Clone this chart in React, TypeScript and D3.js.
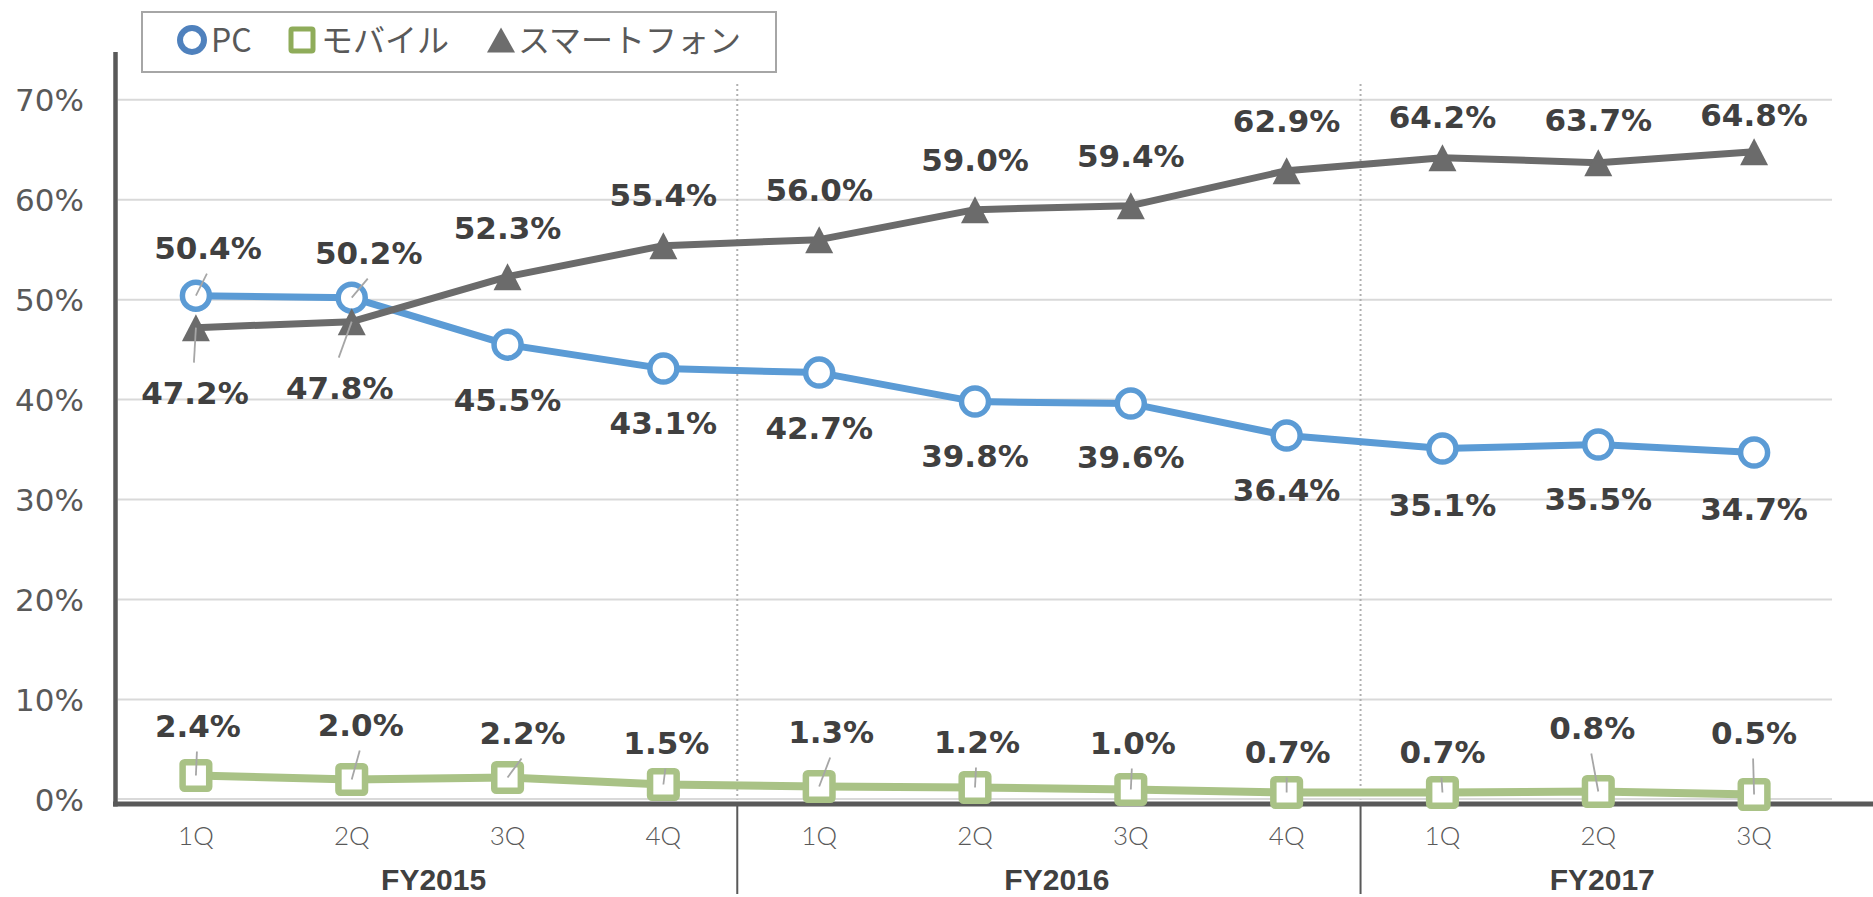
import React from "react";
import * as d3 from "d3";

// quarters on the x axis, grouped by fiscal year
const quarters = ["1Q", "2Q", "3Q", "4Q", "1Q", "2Q", "3Q", "4Q", "1Q", "2Q", "3Q"];
const fiscalYears = ["FY2015", "FY2016", "FY2017"];
const quartersPerYear = [4, 4, 3];

// share of access by device (%)
const pcShare = [50.4, 50.2, 45.5, 43.1, 42.7, 39.8, 39.6, 36.4, 35.1, 35.5, 34.7];
const mobileShare = [2.4, 2.0, 2.2, 1.5, 1.3, 1.2, 1.0, 0.7, 0.7, 0.8, 0.5];
const smartphoneShare = [47.2, 47.8, 52.3, 55.4, 56.0, 59.0, 59.4, 62.9, 64.2, 63.7, 64.8];

const yTicks = [0, 10, 20, 30, 40, 50, 60, 70];
const legendNames = ["PC", "モバイル", "スマートフォン"];

// label placement (pixel offsets from each point), like the hand-moved Excel labels
const pcLabelDx = [12, 17, 0, 0, 0, 0, 0, 0, 0, 0, 0];
const pcLabelDy = [-48, -45, 55, 54, 55, 54, 53, 54, 56, 54, 56];
const pcLeader = [true, true, false, false, false, false, false, false, false, false, false];
const mobileLabelDx = [2, 9, 15, 3, 12, 2, 2, 1, 0, -6, 0];
const mobileLabelDy = [-50, -55, -45, -42, -55, -46, -47, -41, -41, -64, -62];
const mobileLeader = [true, true, true, true, true, true, true, true, true, true, true];
const smartLabelDx = [-1, -12, 0, 0, 0, 0, 0, 0, 0, 0, 0];
const smartLabelDy = [65, 66, -49, -51, -50, -50, -50, -50, -41, -43, -37];
const smartLeader = [true, true, false, false, false, false, false, false, false, false, false];

const W = 1873, H = 897;
const left = 118, right = 1832;

const PC_COLOR = "#5b9bd5";
const MOBILE_COLOR = "#a9c286";
const SMART_COLOR = "#6b6b6b";

const x = d3.scaleBand<number>().domain(d3.range(quarters.length)).range([left, right]);
const cx = (i: number) => (x(i) as number) + x.bandwidth() / 2;
const y = d3.scaleLinear().domain([0, 70]).range([799.5, 99.7]);

const line = (vals: number[]) =>
  d3.line<number>().x((d, i) => cx(i)).y((d) => y(d))(vals) as string;

const triangle = (px: number, py: number, w: number, h: number) =>
  `M${px},${py - h / 2}L${px + w / 2},${py + h / 2}L${px - w / 2},${py + h / 2}Z`;

const labelFont = { fontFamily: "'DejaVu Sans', Verdana, sans-serif", fontWeight: 700, fontSize: 31, fill: "#404040" };

function Labels({ vals, dx, dy, leader }: { vals: number[]; dx: number[]; dy: number[]; leader: boolean[] }) {
  return (
    <g>
      {vals.map((v, i) => {
        const px = cx(i), py = y(v);
        const lx = px + dx[i], ly = py + dy[i];
        const endY = dy[i] < 0 ? ly + 26 : ly - 30;
        return (
          <g key={i}>
            {leader[i] && (
              <line x1={px} y1={py} x2={lx - 1} y2={endY} stroke="#a6a6a6" strokeWidth={1.8} />
            )}
            <text x={lx} y={ly} dy="0.36em" textAnchor="middle" {...labelFont}>
              {v.toFixed(1)}%
            </text>
          </g>
        );
      })}
    </g>
  );
}

export default function App() {
  // boundaries between fiscal years
  const bounds: number[] = [];
  let acc = 0;
  quartersPerYear.forEach((n) => {
    bounds.push(acc);
    acc += n;
  });
  const bx = (k: number) => left + k * x.step();

  return (
    <svg width={W} height={H} style={{ position: "absolute", left: 0, top: 0, background: "#fff" }}>
      {/* gridlines */}
      {yTicks.filter((t) => t > 0).map((t) => (
        <line key={t} x1={left} x2={right} y1={y(t)} y2={y(t)} stroke="#d9d9d9" strokeWidth={2} />
      ))}
      <line x1={left} x2={right} y1={y(0) - 0.5} y2={y(0) - 0.5} stroke="#d9d9d9" strokeWidth={2} />

      {/* dotted year separators */}
      {bounds.slice(1).map((b) => (
        <line key={b} x1={bx(b) - 4} x2={bx(b) - 4} y1={84} y2={y(0)} stroke="#b0b0b0" strokeWidth={2} strokeDasharray="2,3" />
      ))}

      {/* y tick labels */}
      {yTicks.map((t) => (
        <text key={t} x={84} y={y(t)} dy="0.36em" textAnchor="end"
          style={{ fontFamily: "'DejaVu Sans', Verdana, sans-serif", fontSize: 31, fill: "#595959" }}>
          {t}%
        </text>
      ))}

      {/* axes */}
      <line x1={115.5} x2={115.5} y1={52} y2={806.5} stroke="#595959" strokeWidth={4.5} />
      <line x1={113} x2={W} y1={804} y2={804} stroke="#595959" strokeWidth={5} />

      {/* category labels */}
      {quarters.map((q, i) => (
        <text key={i} x={cx(i)} y={836} dy="0.36em" textAnchor="middle"
          style={{ fontFamily: "Lato, 'Open Sans', sans-serif", fontWeight: 300, fontSize: 26, fill: "#595959" }}>
          {q}
        </text>
      ))}
      {bounds.slice(1).map((b) => (
        <line key={"s" + b} x1={bx(b) - 4} x2={bx(b) - 4} y1={806} y2={894} stroke="#595959" strokeWidth={2} />
      ))}
      {fiscalYears.map((fy, k) => {
        const a = bx(bounds[k]);
        const e = bx(bounds[k] + quartersPerYear[k]);
        return (
          <text key={fy} x={(a + e) / 2 + 4} y={879} dy="0.36em" textAnchor="middle"
            style={{ fontFamily: "'Liberation Sans', Arial, sans-serif", fontWeight: 700, fontSize: 30, fill: "#404040" }}>
            {fy}
          </text>
        );
      })}

      {/* PC */}
      <path d={line(pcShare)} fill="none" stroke={PC_COLOR} strokeWidth={7} strokeLinejoin="round" />
      {pcShare.map((v, i) => (
        <circle key={i} cx={cx(i)} cy={y(v)} r={13.5} fill="#fff" stroke={PC_COLOR} strokeWidth={5.5} />
      ))}

      {/* mobile */}
      <path d={line(mobileShare)} fill="none" stroke={MOBILE_COLOR} strokeWidth={8} strokeLinejoin="round" />
      {mobileShare.map((v, i) => (
        <rect key={i} x={cx(i) - 13.3} y={y(v) - 13.3} width={26.6} height={26.6} rx={2}
          fill="#fff" stroke={MOBILE_COLOR} strokeWidth={6.5} />
      ))}

      {/* smartphone */}
      <path d={line(smartphoneShare)} fill="none" stroke={SMART_COLOR} strokeWidth={7} strokeLinejoin="round" />
      {smartphoneShare.map((v, i) => (
        <path key={i} d={triangle(cx(i), y(v), 28, 27)} fill={SMART_COLOR} />
      ))}

      <Labels vals={pcShare} dx={pcLabelDx} dy={pcLabelDy} leader={pcLeader} />
      <Labels vals={mobileShare} dx={mobileLabelDx} dy={mobileLabelDy} leader={mobileLeader} />
      <Labels vals={smartphoneShare} dx={smartLabelDx} dy={smartLabelDy} leader={smartLeader} />

      {/* legend */}
      <rect x={142} y={12} width={634} height={60} fill="#fff" stroke="#a6a6a6" strokeWidth={2} />
      <circle cx={192} cy={40} r={12} fill="#fff" stroke="#4f81bd" strokeWidth={6} />
      <rect x={291} y={29} width={22} height={22} rx={1.5} fill="#fff" stroke="#8fac5a" strokeWidth={5} />
      <path d={triangle(501, 40, 28, 25)} fill="#6d6d6d" />
      {[211, 321, 518].map((lx, k) => (
        <text key={k} x={lx} y={40} dy="0.36em"
          style={{ fontFamily: "'Noto Sans CJK JP', 'Noto Sans', sans-serif", fontSize: 32, fill: "#595959" }}>
          {legendNames[k]}
        </text>
      ))}
    </svg>
  );
}
